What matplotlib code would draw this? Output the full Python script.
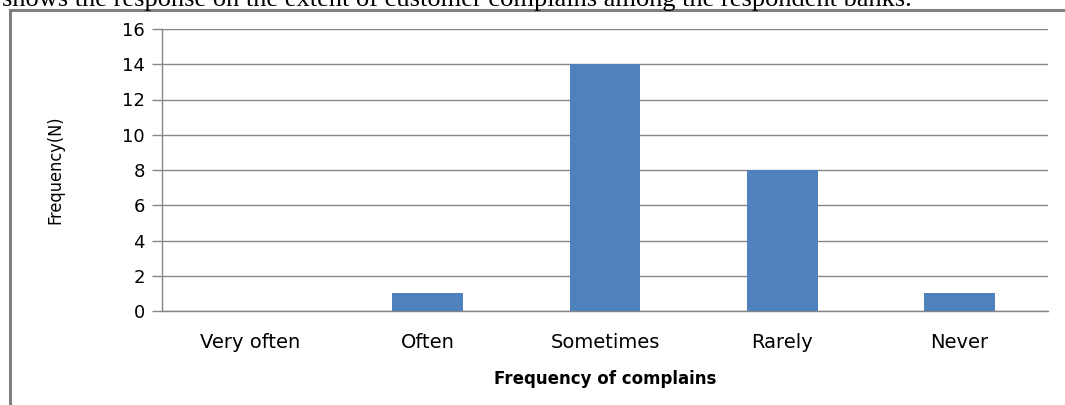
import matplotlib
matplotlib.use("Agg")
import matplotlib.pyplot as plt
import numpy as np
from matplotlib.patches import Rectangle

categories = ["Very often", "Often", "Sometimes", "Rarely", "Never"]
counts = [0, 1, 14, 8, 1]
y_ticks = [0, 2, 4, 6, 8, 10, 12, 14, 16]
caption = "shows the response on the extent of customer complains among the respondent banks."

W, H = 1065, 405
fig = plt.figure(figsize=(W / 100, H / 100), dpi=100)

# axes box in pixel units -> figure fraction
left, right, top, bottom = 162, 1048, 29, 311
ax = fig.add_axes([left / W, 1 - bottom / H, (right - left) / W, (bottom - top) / H])

grey = "#868686"
x = np.arange(len(categories))
ax.bar(x, counts, width=0.4, color="#4F81BD", zorder=3)

ax.set_xlim(-0.5, len(categories) - 0.5)
ax.set_ylim(0, 16)
ax.set_yticks(y_ticks)
ax.set_xticks(x)
ax.set_xticklabels(categories, fontsize=14, family="DejaVu Sans")
ax.tick_params(axis="x", length=0, pad=16)
ax.tick_params(axis="y", length=7.2, width=1, color=grey, pad=5, labelsize=13)
ax.grid(axis="y", color=grey, linewidth=1, zorder=0)

for s in ["top", "right"]:
    ax.spines[s].set_visible(False)
for s in ["left", "bottom"]:
    ax.spines[s].set_color(grey)
    ax.spines[s].set_linewidth(1)

ax.set_xlabel("Frequency of complains", fontsize=12, fontweight="bold", labelpad=13)
ax.set_ylabel("Frequency(N)", fontsize=13, fontstretch="condensed",
              family=["Liberation Sans Narrow", "DejaVu Sans"])
ax.yaxis.set_label_coords((64 - left) / (right - left), 0.5)

# outer frame, partly cut off by the image edges
fig.patches.append(Rectangle((9.5 / W, -0.05), 1.1, (H - 9.5) / H + 0.05,
                             transform=fig.transFigure, fill=False,
                             edgecolor="#7f7f7f", linewidth=2.2))

fig.text(2 / W, 1 - 6 / H, caption, fontsize=19, family="Liberation Serif",
         va="baseline", ha="left")

fig.savefig("out.png", dpi=100)
